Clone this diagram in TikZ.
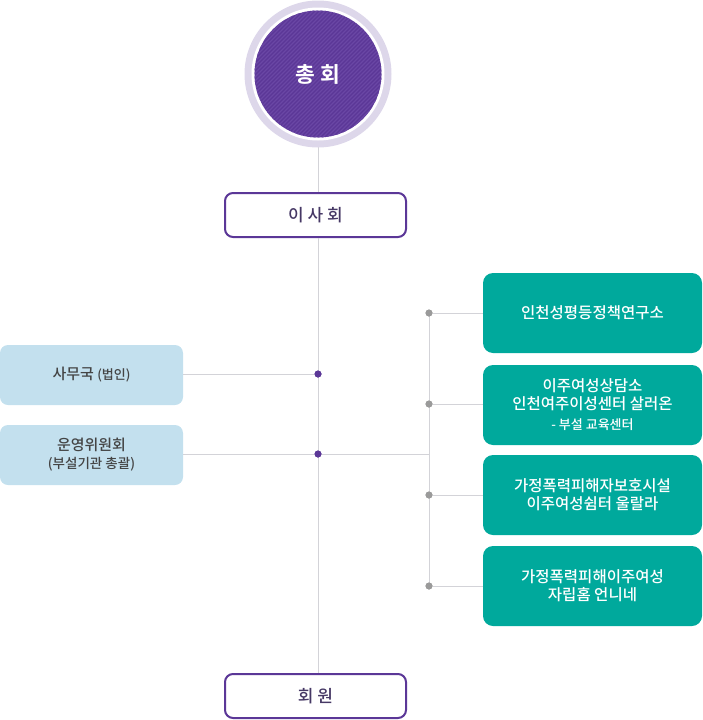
\documentclass[tikz,border=0pt]{standalone}
\usepackage{fontspec}
\setmainfont{Noto Sans CJK KR}[UprightFont={* Medium},BoldFont={* Bold}]
\begin{document}
\begin{tikzpicture}[x=1pt,y=-1pt,
  purp/.style={draw=purple1,line width=2pt,rounded corners=8pt,minimum width=181pt,minimum height=44pt,fill=white,text=textpurp,font=\fontsize{17}{18}\selectfont},
  lbox/.style={fill=lblue,rounded corners=8pt,minimum width=183pt,minimum height=60pt,text=textgray,align=center,font=\fontsize{15}{18}\selectfont},
  rbox/.style={fill=teal1,rounded corners=10pt,minimum width=219pt,minimum height=80pt,text=white,align=center,font=\fontsize{15.5}{20}\selectfont},
  conn/.style={draw=linegray,line width=0.8pt},
  pdot/.style={circle,fill=purple1,inner sep=0pt,minimum size=7pt},
  gdot/.style={circle,fill=dotgray,inner sep=0pt,minimum size=7pt}]
\definecolor{purple1}{HTML}{5B3797}
\definecolor{purpstripe}{HTML}{6A47A5}
\definecolor{ring}{HTML}{DDD7EA}
\definecolor{lblue}{HTML}{C3E0EE}
\definecolor{teal1}{HTML}{00A99C}
\definecolor{linegray}{HTML}{D3D3D8}
\definecolor{dotgray}{HTML}{9A9A9A}
\definecolor{textgray}{HTML}{444444}
\definecolor{textpurp}{HTML}{463865}
\useasboundingbox (0,0) rectangle (702,720);
% connectors
\coordinate (ctop) at (318,140);
\coordinate (vtop) at (429,313);
\coordinate (vbot) at (429,586);
\node[purp] (isa) at (315.5,215) {이 사 회};
\node[purp] (hoe) at (315.5,696) {회 원};
\node[lbox] (samu) at (91.5,375) {사무국 {\fontsize{13}{14}\selectfont(법인)}};
\node[lbox] (unyeong) at (91.5,455) {운영위원회\\[0pt]{\fontsize{13.5}{16}\selectfont(부설기관 총괄)}};
\node[rbox] (r1) at (592.5,313) {인천성평등정책연구소};
\node[rbox] (r2) at (592.5,405) {이주여성상담소\\[-2pt]인천여주이성센터 살러온\\[0pt]{\fontsize{13}{14}\selectfont - 부설 교육센터}};
\node[rbox] (r3) at (592.5,495) {가정폭력피해자보호시설\\[-2pt]이주여성쉼터 울랄라};
\node[rbox] (r4) at (592.5,586) {가정폭력피해이주여성\\[-2pt]자립홈 언니네};
\draw[conn] (ctop) -- (isa.north -| ctop);
\draw[conn] (isa.south -| ctop) -- (hoe.north -| ctop);
\node[pdot] (d1) at (318,374) {};
\node[pdot] (d2) at (318,454) {};
\draw[conn] (samu.east |- d1) -- (d1);
\draw[conn] (unyeong.east |- d2) -- (d2);
\draw[conn] (d2) -- (vtop |- d2);
\draw[conn] (vtop) -- (vbot);
\node[gdot] (g1) at (429,313) {};
\node[gdot] (g2) at (429,404) {};
\node[gdot] (g3) at (429,495) {};
\node[gdot] (g4) at (429,586) {};
\draw[conn] (g1) -- (r1.west |- g1);
\draw[conn] (g2) -- (r2.west |- g2);
\draw[conn] (g3) -- (r3.west);
\draw[conn] (g4) -- (r4.west);
\node[pdot] at (318,374) {};
\node[pdot] at (318,454) {};
\node[gdot] at (429,313) {};
\node[gdot] at (429,404) {};
\node[gdot] at (429,495) {};
\node[gdot] at (429,586) {};
% circle
\fill[ring] (318,74) circle (73.5);
\fill[white] (318,74) circle (66.5);
\begin{scope}
\clip (318,74) circle (63.5);
\fill[purple1] (250,6) rectangle (386,142);
\foreach \k in {-140,-136,...,140} {
  \draw[purpstripe,line width=1.2pt] (318+\k-80,74+80) -- (318+\k+80,74-80);
}
\end{scope}
\node[text=white,font=\bfseries\fontsize{21.5}{22}\selectfont] (chong) at (318,74) {총 회};
\end{tikzpicture}
\end{document}
